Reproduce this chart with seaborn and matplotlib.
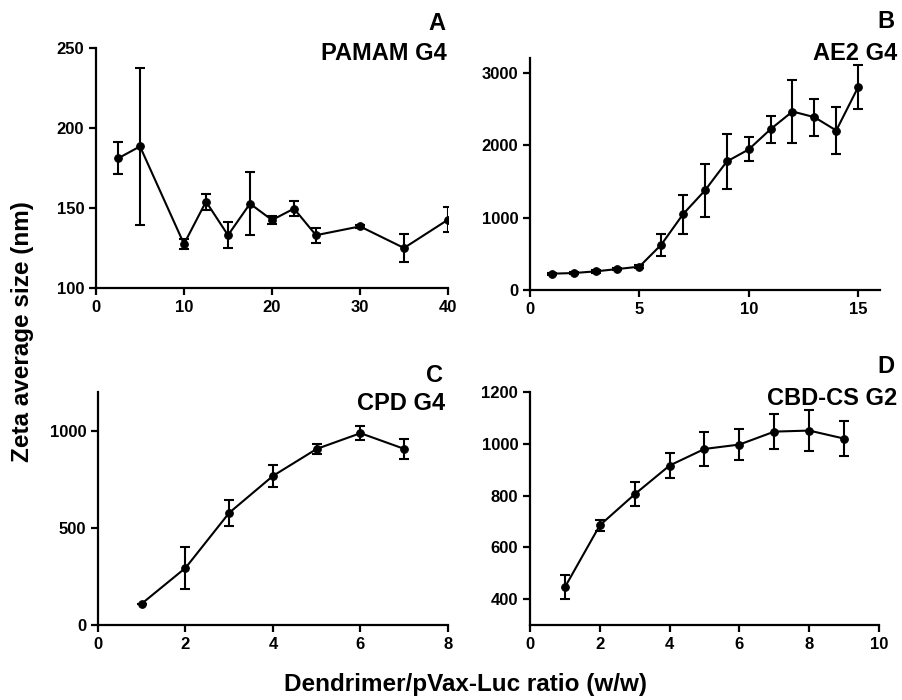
import numpy as np
import pandas as pd
import seaborn as sns
import matplotlib
matplotlib.use("Agg")
import matplotlib.pyplot as plt

# data (mean and SD)
x_a = [2.5, 5, 10, 12.5, 15, 17.5, 20, 22.5, 25, 30, 35, 40]
y_a = [181, 188.5, 127.5, 154, 133, 152.7, 142.5, 149.6, 133, 138.5, 125, 142.7]
e_a = [10, 49, 3, 5, 8, 19.5, 2.5, 4.7, 4.8, 1, 8.7, 7.7]

x_b = list(range(1, 16))
y_b = [225, 234, 257, 289, 322, 625, 1047, 1374, 1773, 1939, 2219, 2462, 2384, 2200, 2798]
e_b = [15, 15, 20, 20, 25, 150, 270, 365, 385, 165, 185, 430, 257, 320, 305]

x_c = [1, 2, 3, 4, 5, 6, 7]
y_c = [110, 294, 578, 768, 907, 988, 907]
e_c = [0, 110, 68, 55, 27, 37, 53]

x_d = [1, 2, 3, 4, 5, 6, 7, 8, 9]
y_d = [446, 685, 805, 916, 980, 997, 1047, 1051, 1020]
e_d = [46, 20, 47, 47, 65, 60, 68, 79, 67]

panels = [
    ("A", "PAMAM G4", x_a, y_a, e_a),
    ("B", "AE2 G4", x_b, y_b, e_b),
    ("C", "CPD G4", x_c, y_c, e_c),
    ("D", "CBD-CS G2", x_d, y_d, e_d),
]

sns.set_style("ticks")
plt.rcParams['font.family'] = ['Liberation Sans', 'DejaVu Sans']
plt.rcParams['font.weight'] = 'bold'
plt.rcParams['text.color'] = 'black'

W, H = 903, 700
fig = plt.figure(figsize=(W / 100, H / 100), dpi=100)

# axes boxes in pixels: left, top, right, bottom
boxes = [(96, 48, 448, 288), (530, 58, 880, 290), (98, 392, 448, 625), (530, 392, 879, 625)]
limits = [((0, 40), (100, 250), [0, 10, 20, 30, 40], [100, 150, 200, 250]),
          ((0, 16), (0, 3200), [0, 5, 10, 15], [0, 1000, 2000, 3000]),
          ((0, 8), (0, 1200), [0, 2, 4, 6, 8], [0, 500, 1000]),
          ((0, 10), (300, 1200), [0, 2, 4, 6, 8, 10], [400, 600, 800, 1000, 1200])]
letter_pos = [(445, 23, 53), (895, 22, 53), (443, 376, 404), (895, 367, 398)]

for (letter, name, xs, ys, es), box, lim, lp in zip(panels, boxes, limits, letter_pos):
    l, t, r, b = box
    ax = fig.add_axes([l / W, 1 - b / H, (r - l) / W, (b - t) / H])
    df = pd.DataFrame({"x": xs, "y": ys})
    ax.errorbar(xs, ys, yerr=es, fmt="none", ecolor="black", elinewidth=1.5,
                capsize=3.5, capthick=1.5, zorder=2)
    sns.lineplot(data=df, x="x", y="y", ax=ax, color="black", linewidth=1.5,
                 marker="o", markersize=5.5, markeredgecolor="black", zorder=3)
    ax.set_xlim(*lim[0])
    ax.set_ylim(*lim[1])
    ax.set_xticks(lim[2])
    ax.set_yticks(lim[3])
    ax.set_xlabel("")
    ax.set_ylabel("")
    sns.despine(ax=ax)
    for s in ["left", "bottom"]:
        ax.spines[s].set_linewidth(1.6)
        ax.spines[s].set_color("black")
    ax.tick_params(direction="out", length=5, width=1.6, color="black",
                   labelsize=12, labelcolor="black")
    for lab in ax.get_xticklabels() + ax.get_yticklabels():
        lab.set_fontweight("bold")
    fig.text(lp[0] / W, 1 - lp[1] / H, letter, ha="right", va="center",
             fontsize=17, fontweight="bold", color="black")
    fig.text(lp[0] / W + 2 / W, 1 - lp[2] / H, name, ha="right", va="center",
             fontsize=17, fontweight="bold", color="black")

fig.text(23 / W, 1 - 332 / H, "Zeta average size (nm)", rotation=90,
         ha="center", va="center", fontsize=17.5, fontweight="bold", color="black")
fig.text(465 / W, 1 - 684 / H, "Dendrimer/pVax-Luc ratio (w/w)",
         ha="center", va="center", fontsize=17.5, fontweight="bold", color="black")

fig.savefig("out.png", dpi=100)
